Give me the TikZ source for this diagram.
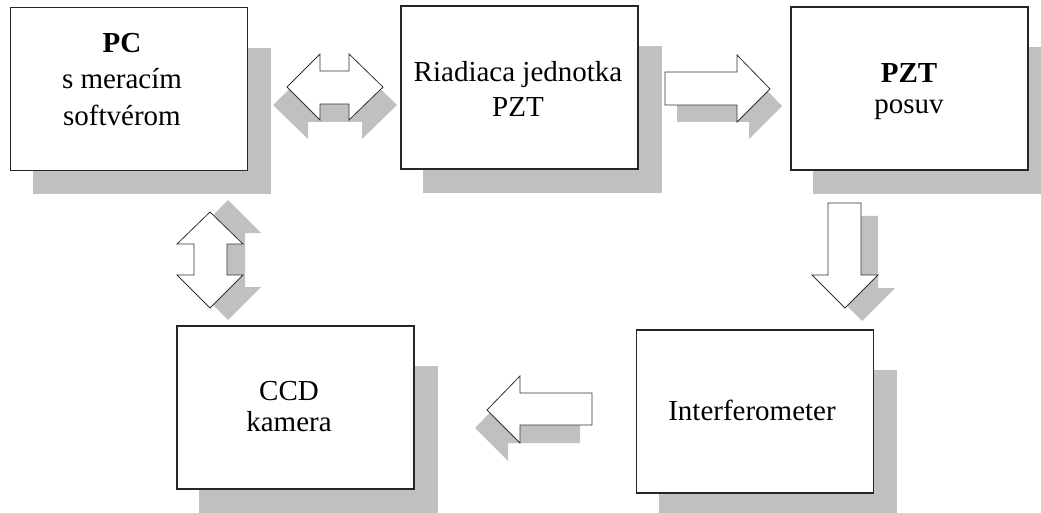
\documentclass[tikz,border=0pt]{standalone}
\usepackage{fontspec}
\setmainfont{Liberation Serif}
\usepackage{tikz}
\usetikzlibrary{calc,backgrounds}
\definecolor{tiengray}{RGB}{192,192,192}
\tikzset{
  blok/.style    = {draw=black!85, line width=1.1pt, fill=white,
                    minimum width=237pt, minimum height=163pt, inner sep=0pt},
  popis/.style   = {align=center, inner sep=0pt,
                    font=\fontsize{29}{36}\selectfont},
  tien/.style    = {fill=tiengray},
  sipka/.style   = {draw=black!80, line width=0.8pt, fill=white, line join=miter},
}
\newcommand{\tienbox}[1]{%
  \fill[tien] ($(#1.south west)+(23,23)$) rectangle ($(#1.north east)+(23,41)$);}

\begin{document}
\begin{tikzpicture}[x=1pt,y=-1pt]
  \useasboundingbox (0,0) rectangle (1041,513);
  % bloky
  \node[blok] (pc)   at (129,89)    {};
  \node[blok] (ctrl) at (519.5,87.5) {};
  \node[blok] (pzt)  at (909.5,88.5) {};
  \node[blok] (ccd)  at (295.5,407.5) {};
  \node[blok] (intf) at (755,411.5)  {};
  \begin{scope}[on background layer]
    \foreach \b in {pc,ctrl,pzt,ccd,intf} { \tienbox{\b} }
  \end{scope}
  \node[popis] (pctxt)   at (122,80)   {\textbf{PC}\\s meracím\\[1pt]softvérom};
  \node[popis] (ctrltxt) at (518,88.6) {Riadiaca jednotka\\[-1pt]PZT};
  \node[popis] (pzttxt)  at (909,91.2) {\textbf{PZT}\\[-5pt]posuv};
  \node[popis] (ccdtxt)  at (289,407) {CCD\\[-5pt]kamera};
  \node[popis] (intftxt) at (752,410.1) {Interferometer};
  % tiene sipiek
  \fill[tien] (273,105) -- (308,71) -- (308,88) -- (362,88) -- (362,71) -- (397,105)
        -- (362,139) -- (362,122) -- (308,122) -- (308,139) -- cycle;
  \fill[tien] (228,200) -- (261,233) -- (245,233) -- (245,287) -- (261,287) -- (228,320)
        -- (195,287) -- (211,287) -- (211,233) -- (195,233) -- cycle;
  \fill[tien] (677,89) -- (749,89) -- (749,72) -- (782,106) -- (749,139) -- (749,122)
        -- (677,122) -- cycle;
  \fill[tien] (845,216) -- (878,216) -- (878,288) -- (895,288) -- (862,321) -- (829,288)
        -- (845,288) -- cycle;
  \fill[tien] (580,411) -- (508,411) -- (508,394) -- (475,428) -- (508,461) -- (508,443)
        -- (580,443) -- cycle;
  % sipky
  \draw[sipka] (287,87) -- (320,54) -- (320,71) -- (349,71) -- (349,54) -- (383,87)
        -- (349,120) -- (349,104) -- (320,104) -- (320,120) -- cycle;
  \draw[sipka] (210,212) -- (243,244) -- (227,244) -- (227,275) -- (243,275) -- (210,308)
        -- (177,275) -- (194,275) -- (194,244) -- (177,244) -- cycle;
  \draw[sipka] (665,72) -- (737,72) -- (737,55) -- (770,89) -- (737,122) -- (737,105)
        -- (665,105) -- cycle;
  \draw[sipka] (828,203) -- (861,203) -- (861,275) -- (878,275) -- (845,308) -- (812,275)
        -- (828,275) -- cycle;
  \draw[sipka] (592,393) -- (520,393) -- (520,376) -- (487,410) -- (520,443) -- (520,425)
        -- (592,425) -- cycle;
\end{tikzpicture}
\end{document}
